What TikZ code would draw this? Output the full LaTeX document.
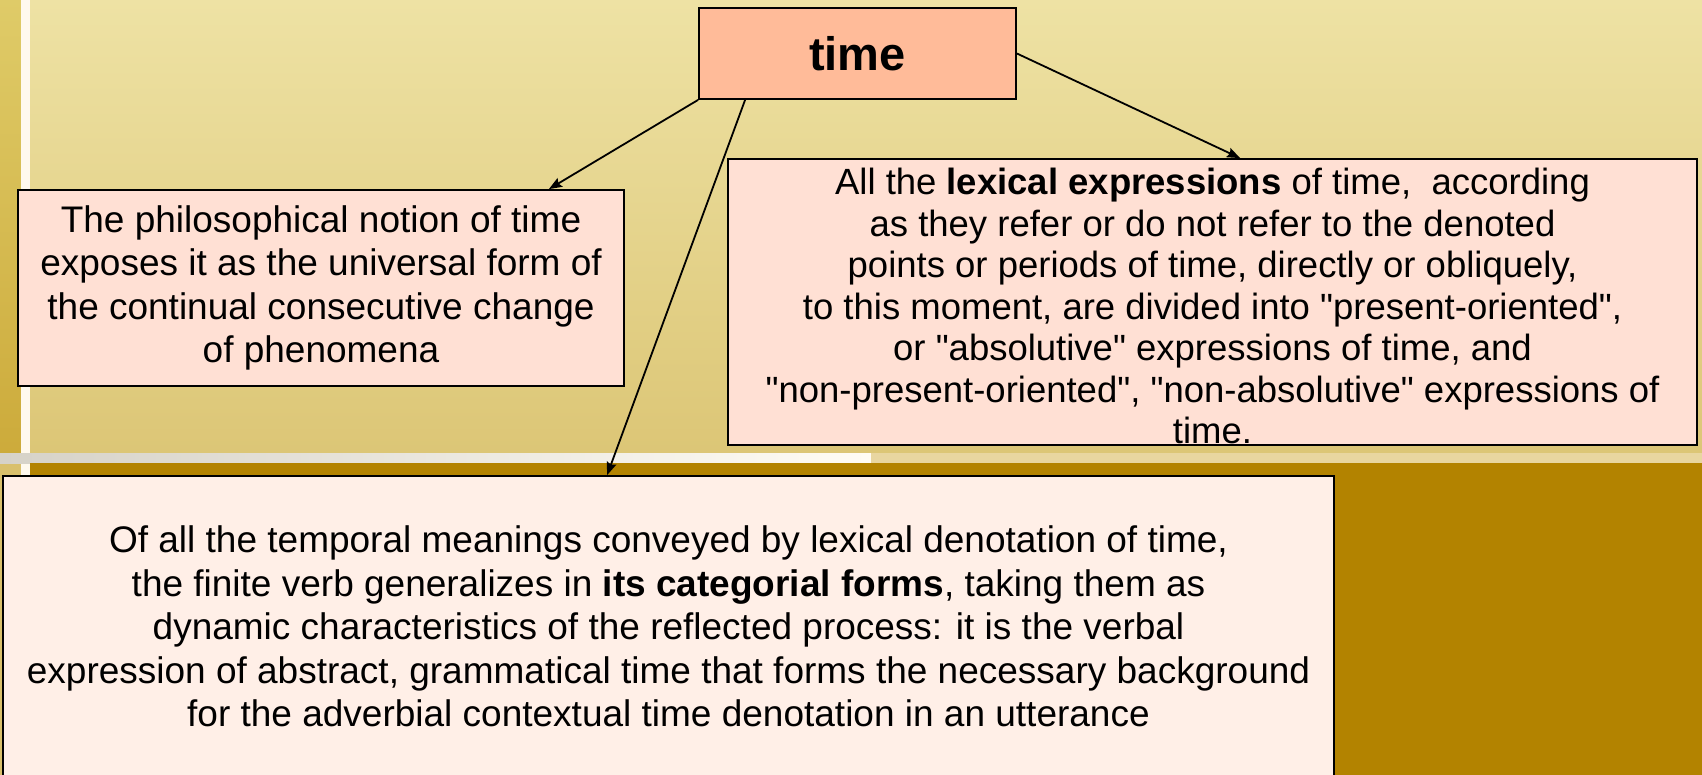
\documentclass[tikz,border=0pt]{standalone}
\usepackage{fontspec}
\setmainfont{Liberation Sans}
\newfontfamily\cardfont{Liberation Sans}
\usepackage{xcolor}
\usetikzlibrary{arrows.meta}
\definecolor{stripTop}{HTML}{DFCB68}
\definecolor{stripBot}{HTML}{CCAA3A}
\definecolor{stripLow}{HTML}{D9C06C}
\definecolor{paleTop}{HTML}{EEE2A4}
\definecolor{paleBot}{HTML}{DCC676}
\definecolor{cream}{HTML}{FFF9EE}
\definecolor{bandGray}{HTML}{D6D2C8}
\definecolor{bandWhite}{HTML}{FFFCF4}
\definecolor{bandLight}{HTML}{E8D6A0}
\definecolor{darkGold}{HTML}{B38300}
\definecolor{timeFill}{HTML}{FFBB99}
\definecolor{cardFill}{HTML}{FFE0D4}
\definecolor{verbFill}{HTML}{FFEFE7}

\begin{document}
\begin{tikzpicture}[x=1pt, y=-1pt]
\tikzstyle{card}=[draw, line width=1.8pt, align=center, inner sep=0pt, font=\cardfont\fontsize{37}{43.5}\selectfont]
\tikzstyle{link}=[-{Stealth[length=13pt, width=10pt, inset=2pt]}, line width=1.8pt]
\useasboundingbox (0,0) rectangle (1702,775);
% background
\fill[top color=stripTop, bottom color=stripBot] (0,0) rectangle (21,463);
\fill[stripLow] (0,463) rectangle (21,775);
\fill[cream] (21,0) rectangle (30,775);
\fill[top color=paleTop, bottom color=paleBot] (30,0) rectangle (1702,453);
\fill[left color=bandGray, right color=bandWhite] (0,453) rectangle (871,463);
\fill[bandLight] (871,453) rectangle (1702,463);
\fill[darkGold] (30,463) rectangle (1702,775);
% boxes
\node[card, fill=timeFill, minimum width=317pt, minimum height=91pt, font=\cardfont\bfseries\fontsize{47}{56}\selectfont] (time) at (857.5,53.5) {time};
\node[card, fill=cardFill, minimum width=606pt, minimum height=196pt] (notion) at (321,288) {The philosophical notion of time\\exposes it as the universal form of\\the continual consecutive change\\of phenomena};
\node[card, fill=cardFill, minimum width=969pt, minimum height=286pt, font=\cardfont\fontsize{36.5}{41.5}\selectfont] (lexical) at (1212.5,302) {\rule{0pt}{35pt}All the \textbf{lexical expressions} of time,~ according\\as they refer or do not refer to the denoted\\points or periods of time, directly or obliquely,\\to this moment, are divided into "present-oriented",\\or "absolutive" expressions of time, and\\"non-present-oriented", "non-absolutive" expressions of\\time.};
\node[card, fill=verbFill, minimum width=1331pt, minimum height=301pt] (verb) at (668.5,626.5) {Of all the temporal meanings conveyed by lexical denotation of time,\\the finite verb generalizes in \textbf{its categorial forms}, taking them as\\dynamic characteristics of the reflected process: it is the verbal\\expression of abstract, grammatical time that forms the necessary background\\for the adverbial contextual time denotation in an utterance};
% arrows
\draw[link] (time.south west) -- ([xshift=-76pt]notion.north east);
\draw[link] ([xshift=47pt]time.south west) -- ([xshift=605pt]verb.north west);
\draw[link] (time.east) -- ([xshift=513pt]lexical.north west);
\end{tikzpicture}
\end{document}
